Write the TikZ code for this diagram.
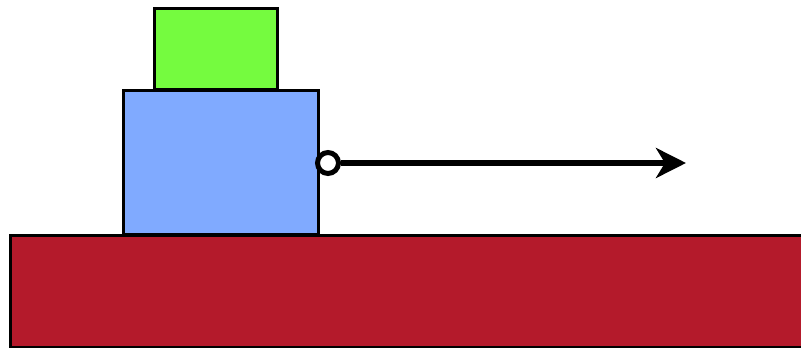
\documentclass[tikz,border=0pt]{standalone}
\usetikzlibrary{arrows.meta}
\definecolor{groundred}{RGB}{180,26,43}
\definecolor{blockblue}{RGB}{128,170,255}
\definecolor{blockgreen}{RGB}{117,251,63}
\tikzset{
  box/.style={draw=black, line width=3pt},
  pull/.style={line width=5.5pt, -{Stealth[length=30pt,width=30pt,inset=9pt]}},
  ring/.style={circle, draw=black, fill=white, line width=5pt, minimum size=21pt, inner sep=0pt}
}
\begin{document}
\begin{tikzpicture}[x=1pt,y=-1pt]
\useasboundingbox (0,0) rectangle (801,348);
\clip (0,0) rectangle (801,348);
\draw[box, fill=groundred] (10,235) rectangle (805,347);
\draw[box, fill=blockblue] (123,90) rectangle (318,234);
\draw[box, fill=blockgreen] (154,8) rectangle (277,89);
\node[ring] (hook) at (328,163) {};
\coordinate (tip) at (686,163);
\draw[pull] (hook.east) -- (tip);
\end{tikzpicture}
\end{document}
